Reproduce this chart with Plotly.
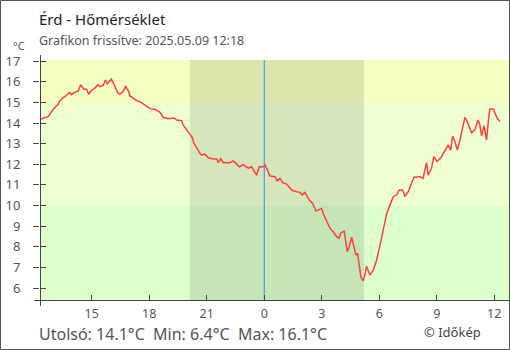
import plotly.graph_objects as go

# hours relative to midnight of 2025-05-09
hours = [-11.70, -11.53, -11.27, -11.01, -10.75, -10.66, -10.49, -10.40, -10.17, -10.05,
         -9.93, -9.70, -9.58, -9.41, -9.27, -9.16, -9.04, -8.83, -8.69, -8.57,
         -8.40, -8.29, -8.19, -7.98, -7.88, -7.74, -7.63, -7.53, -7.39, -7.23,
         -7.09, -7.01, -6.83, -6.66, -6.48, -6.31, -6.13, -5.96, -5.70, -5.44,
         -5.27, -5.01, -4.83, -4.71, -4.57, -4.31, -4.23, -4.05, -3.88, -3.76,
         -3.67, -3.53, -3.35, -3.27, -3.09, -2.92, -2.66, -2.48, -2.40, -2.27,
         -2.14, -1.79, -1.62, -1.44, -1.30, -1.10, -0.83, -0.66, -0.54, -0.40,
         -0.26, -0.05, 0.05, 0.16, 0.30, 0.56, 0.68, 0.82, 0.96, 1.17,
         1.34, 1.43, 1.69, 1.86, 1.98, 2.12, 2.35, 2.52, 2.70, 2.82,
         2.99, 3.11, 3.26, 3.43, 3.60, 3.78, 3.90, 4.00, 4.17, 4.25,
         4.33, 4.43, 4.56, 4.68, 4.78, 4.87, 4.96, 5.04, 5.16, 5.25,
         5.34, 5.42, 5.51, 5.69, 5.86, 6.04, 6.21, 6.39, 6.56, 6.73,
         6.91, 7.04, 7.22, 7.34, 7.51, 7.69, 7.81, 8.12, 8.29, 8.38,
         8.47, 8.55, 8.73, 8.85, 9.02, 9.25, 9.43, 9.60, 9.72, 9.83,
         9.95, 10.07, 10.21, 10.35, 10.47, 10.59, 10.69, 10.82, 10.99, 11.16,
         11.25, 11.34, 11.46, 11.60, 11.68, 11.77, 11.95, 12.05, 12.16, 12.30]
temps = [14.15, 14.25, 14.31, 14.67, 14.91, 15.09, 15.23, 15.28, 15.48, 15.38,
         15.48, 15.56, 15.86, 15.64, 15.64, 15.40, 15.57, 15.70, 15.86, 15.77,
         15.83, 16.09, 15.90, 16.13, 15.96, 15.69, 15.45, 15.40, 15.50, 15.77,
         15.56, 15.33, 15.20, 15.09, 15.04, 14.93, 14.85, 14.70, 14.67, 14.52,
         14.28, 14.21, 14.23, 14.25, 14.15, 14.12, 13.91, 13.67, 13.50, 13.31,
         13.02, 12.78, 12.53, 12.45, 12.50, 12.32, 12.26, 12.26, 12.08, 12.27,
         12.08, 12.08, 12.17, 12.01, 11.88, 11.98, 11.81, 11.88, 11.72, 11.48,
         11.88, 11.88, 11.97, 11.72, 11.43, 11.40, 11.20, 11.32, 11.11, 11.04,
         10.83, 10.75, 10.67, 10.64, 10.51, 10.64, 10.27, 10.11, 9.73, 9.78,
         9.86, 9.54, 9.21, 8.89, 8.73, 8.49, 8.41, 8.68, 8.76, 8.36,
         7.76, 8.00, 8.46, 8.00, 7.60, 7.68, 7.11, 6.54, 6.35, 6.63,
         7.06, 6.87, 6.63, 6.87, 7.35, 8.08, 8.81, 9.62, 10.02, 10.43,
         10.51, 10.75, 10.75, 10.43, 10.67, 11.08, 11.37, 11.40, 11.32, 11.72,
         12.08, 11.48, 11.81, 12.37, 12.13, 12.37, 12.69, 12.94, 12.69, 13.37,
         13.10, 12.69, 13.18, 13.75, 14.28, 14.07, 13.82, 13.53, 13.67, 14.15,
         13.91, 13.37, 13.88, 13.18, 13.99, 14.68, 14.68, 14.48, 14.23, 14.07]

x_tickvals = [-9, -6, -3, 0, 3, 6, 9, 12]
x_ticktext = ["15", "18", "21", "0", "3", "6", "9", "12"]
y_tickvals = [6, 7, 8, 9, 10, 11, 12, 13, 14, 15, 16, 17]
x_range = [-11.70, 12.77]
y_range = [5.37, 17.06]
night = [-3.88, 5.20]
bands = [(5.37, 10, "#ddffcc"), (10, 15, "#f0ffd2"), (15, 17.06, "#f5ffc2")]

title = "Érd - Hőmérséklet"
subtitle = "Grafikon frissítve: 2025.05.09 12:18"
footer = "Utolsó: 14.1°C  Min: 6.4°C  Max: 16.1°C"
credit = "© Időkép"

FONT = "Noto Sans"
AX = "#444444"
PW, PH, L, T = 469, 241, 40, 60

fig = go.Figure()
fig.add_trace(go.Scatter(x=hours, y=temps, mode="lines",
                         line=dict(color="#ff4040", width=1.5),
                         hoverinfo="skip", showlegend=False))
# invisible trace for overlay y axis (inside half of crossing ticks)
fig.add_trace(go.Scatter(x=[x_range[0]], y=[y_range[0]], yaxis="y2", mode="markers",
                         marker=dict(opacity=0), showlegend=False, hoverinfo="skip"))

def px_x(p):
    return (p - L) / PW

def px_y(p):
    return (T + PH - p) / PH

shapes = []
for y0, y1, c in bands:
    shapes.append(dict(type="rect", xref="x domain", yref="y", x0=0, x1=1, y0=y0, y1=y1,
                       fillcolor=c, line=dict(width=0), layer="below"))
shapes.append(dict(type="rect", xref="x", yref="y domain", x0=night[0], x1=night[1], y0=0, y1=1,
                   fillcolor="rgba(0,0,0,0.1)", line=dict(width=0), layer="below"))
shapes.append(dict(type="line", xref="x", yref="y domain", x0=0, x1=0, y0=0, y1=1,
                   line=dict(color="#2196f3", width=1), layer="below"))
# axis lines extending slightly past the plot area
shapes.append(dict(type="line", xref="paper", yref="paper", x0=px_x(40.5), x1=px_x(40.5),
                   y0=px_y(306), y1=px_y(55), line=dict(color=AX, width=1)))
shapes.append(dict(type="line", xref="paper", yref="paper", x0=px_x(34), x1=px_x(509),
                   y0=px_y(300.5), y1=px_y(300.5), line=dict(color=AX, width=1)))
# outer border
shapes.append(dict(type="rect", xref="paper", yref="paper",
                   x0=px_x(0.5), x1=px_x(509.5), y0=px_y(349.5), y1=px_y(0.5),
                   line=dict(color="#555555", width=1), fillcolor="rgba(0,0,0,0)"))

def ann(text, px, py, size, color, xanchor="left"):
    return dict(text=text, xref="paper", yref="paper", x=px_x(px), y=px_y(py),
                xanchor=xanchor, yanchor="middle", showarrow=False,
                font=dict(family=FONT, size=size, color=color))

annotations = [
    ann(title, 37, 19.5, 15, "#222222"),
    ann(subtitle, 37, 40.5, 12.5, "#555555"),
    ann("°C", 19, 45.5, 11, "#555555", "center"),
    ann(footer, 37, 333.5, 16, "#555555"),
    ann(credit, 422, 331.5, 13, "#444444"),
]

fig.update_layout(
    width=510, height=350, margin=dict(l=L, r=1, t=T, b=49),
    paper_bgcolor="white", plot_bgcolor="white",
    shapes=shapes, annotations=annotations,
    font=dict(family=FONT, size=13, color="#555555"),
    xaxis=dict(range=x_range, tickvals=x_tickvals, ticktext=x_ticktext,
               ticks="inside", ticklen=6, tickcolor=AX, tickwidth=1,
               showline=False, showgrid=False,
               zeroline=False, tickfont=dict(size=12.5, color="#555555"),
               ticklabelstandoff=3),
    yaxis=dict(range=y_range, tickvals=y_tickvals,
               ticks="outside", ticklen=6, tickcolor=AX, tickwidth=1,
               showline=False, showgrid=False,
               zeroline=False, tickfont=dict(size=13, color="#555555"),
               ticklabelstandoff=10),
    yaxis2=dict(range=y_range, tickvals=y_tickvals, overlaying="y", side="left",
                ticks="inside", ticklen=6, tickcolor=AX, tickwidth=1,
                showticklabels=False, showline=False, showgrid=False, zeroline=False),
)

fig.write_html("out.html")
